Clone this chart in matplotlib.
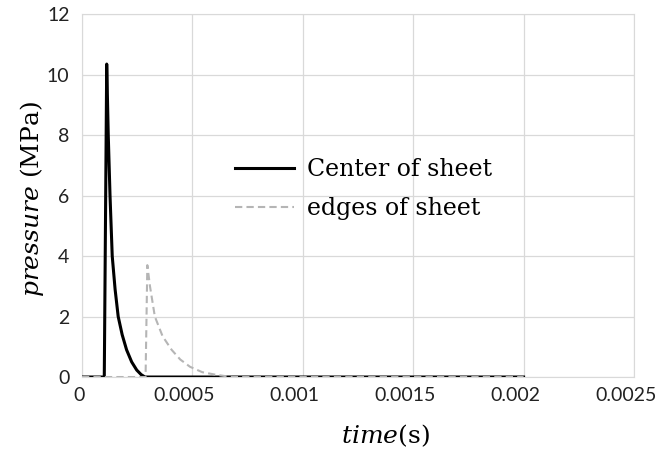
import numpy as np
import matplotlib.pyplot as plt
from matplotlib.transforms import ScaledTranslation

plt.rcParams['font.family'] = ['DejaVu Serif']
plt.rcParams['mathtext.fontset'] = 'dejavuserif'

# 판 중앙 압력 (MPa) - 그림에서 읽은 값
t_center = [0, 0.000101, 0.000112, 0.000119, 0.000127, 0.000137, 0.000150, 0.000164,
            0.000182, 0.000202, 0.000225, 0.000248, 0.000268, 0.000285, 0.002]
p_center = [0, 0, 10.35, 8.0, 6.0, 4.0, 2.9, 2.0, 1.4, 0.9, 0.5, 0.23, 0.08, 0, 0]

# 판 가장자리 압력 (MPa)
t_edge = [0, 0.000288, 0.000296, 0.000308, 0.000330, 0.000365, 0.000406, 0.000445,
          0.000489, 0.000545, 0.00061, 0.00068, 0.002]
p_edge = [0, 0, 3.70, 3.0, 2.0, 1.35, 0.9, 0.58, 0.34, 0.16, 0.07, 0, 0]

x_ticks = [0, 0.0005, 0.001, 0.0015, 0.002, 0.0025]
x_labels = ['0', '0.0005', '0.001', '0.0015', '0.002', '0.0025']
y_ticks = [0, 2, 4, 6, 8, 10, 12]

fig = plt.figure(figsize=(6.59, 4.57), dpi=100)
ax = fig.add_axes([0.1244, 0.175, 0.8376, 0.794])

ax.plot(t_center, p_center, color='black', lw=2.2, label='Center of sheet', zorder=3)
ax.plot(t_edge, p_edge, color='#b5b5b5', lw=1.5, ls=(0, (3.5, 2)), label='edges of sheet', zorder=4)

ax.set_xlim(0, 0.0025)
ax.set_ylim(0, 12)
ax.set_xticks(x_ticks)
ax.set_xticklabels(x_labels)
ax.set_yticks(y_ticks)
ax.grid(True, color='#d9d9d9', lw=0.9)
ax.set_axisbelow(True)
for s in ax.spines.values():
    s.set_color('#d9d9d9')
ax.tick_params(length=0, colors='#222222')
ax.tick_params(axis='x', pad=7)
ax.tick_params(axis='y', pad=9)
for lab in ax.get_xticklabels() + ax.get_yticklabels():
    lab.set_fontfamily(['Lato', 'DejaVu Sans'])
    lab.set_fontsize(14)
# x 눈금 글자가 원본처럼 약간 왼쪽으로 치우침 ('0' 만 조금)
for i, lab in enumerate(ax.get_xticklabels()):
    dx = -0.03 if i == 0 else -0.08
    lab.set_transform(lab.get_transform() + ScaledTranslation(dx, 0, fig.dpi_scale_trans))

fig.text(385 / 659, 1 - 436 / 457, r'$\mathit{time}$(s)', fontsize=18, ha='center', va='center')
fig.text(32 / 659, 1 - 199 / 457, r'$\mathit{pressure}$ (MPa)', fontsize=18,
         ha='center', va='center', rotation=90)

ax.legend(loc='upper left', bbox_to_anchor=(235 / 659, 1 - 158 / 457),
          bbox_transform=fig.transFigure, frameon=False, borderpad=0, borderaxespad=0,
          fontsize=17, handlelength=2.5, handletextpad=0.55, labelspacing=0.68)

plt.savefig('out.png', dpi=100)
